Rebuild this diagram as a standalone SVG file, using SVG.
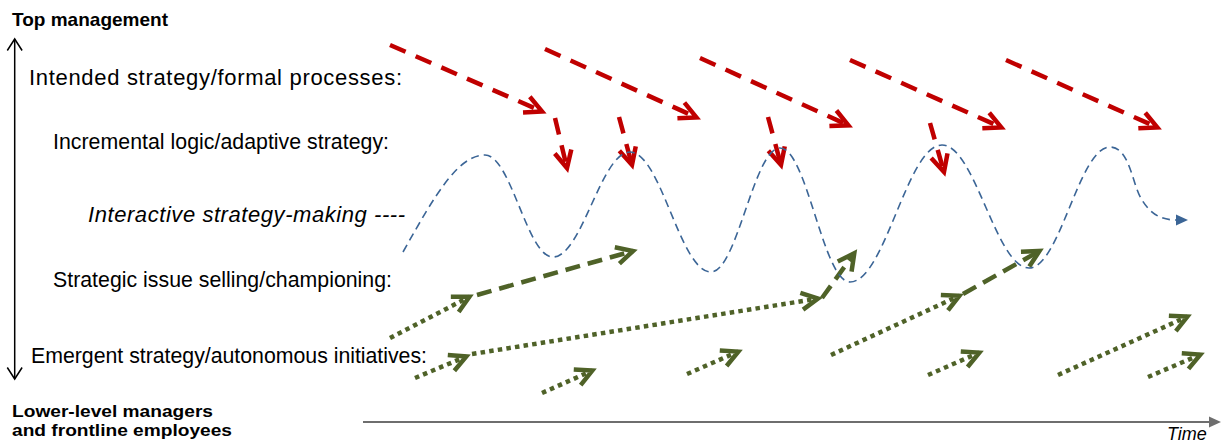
<svg xmlns="http://www.w3.org/2000/svg" width="1223" height="446" viewBox="0 0 1223 446">
<style>
text{font-family:"Liberation Sans",Arial,sans-serif;fill:#000}
.b{font-weight:bold;font-size:18.5px}
.bs{font-weight:bold;font-size:16.5px}
.r{font-size:21.3px}
.red{fill:none;stroke:#C00000;stroke-width:4.5;stroke-dasharray:17 11;marker-end:url(#hr)}
.gdot{fill:none;stroke:#4F6228;stroke-width:4.5;stroke-dasharray:4.5 4.2;marker-end:url(#hg)}
.gdash{fill:none;stroke:#4F6228;stroke-width:4.5;stroke-dasharray:15 8;marker-end:url(#hg)}
</style>
<defs>
<marker id="hr" markerUnits="userSpaceOnUse" viewBox="-25 -15 35 30" refX="0" refY="0" markerWidth="35" markerHeight="30" orient="auto" overflow="visible">
<path d="M-17,-8.5 L0,0 L-17,8.5" fill="none" stroke="#C00000" stroke-width="4.5" stroke-dasharray="none"/>
</marker>
<marker id="hg" markerUnits="userSpaceOnUse" viewBox="-25 -15 35 30" refX="0" refY="0" markerWidth="35" markerHeight="30" orient="auto" overflow="visible">
<path d="M-16.5,-8.5 L0,0 L-16.5,8.5" fill="none" stroke="#4F6228" stroke-width="4.5" stroke-dasharray="none"/>
</marker>
<marker id="hb" markerUnits="userSpaceOnUse" viewBox="0 -6 13 12" refX="0" refY="0" markerWidth="13" markerHeight="12" orient="auto" overflow="visible">
<path d="M0,-5.5 L12,0 L0,5.5 Z" fill="#3B6596" stroke="none"/>
</marker>
</defs>

<g id="axes">
<g id="vertical-axis" fill="none" stroke="#000" stroke-width="1.5">
<line x1="14.7" y1="39" x2="14.7" y2="379"/>
<polyline points="7.3,50.5 14.7,39 22.1,50.5"/>
<polyline points="7.3,367.5 14.7,379 22.1,367.5"/>
</g>
<g id="time-axis">
<line x1="363" y1="422" x2="1210" y2="422" stroke="#6E6E6E" stroke-width="2"/>
<path d="M1209,416.5 L1221,422 L1209,427.5 Z" fill="#6E6E6E"/>
</g>
</g>

<g id="labels">
<g id="top-management"><text class="b" x="12" y="25.7" textLength="156" lengthAdjust="spacingAndGlyphs">Top management</text></g>
<g id="intended"><text x="29" y="85" style="font-size:22px" textLength="373" lengthAdjust="spacing">Intended strategy/formal processes:</text></g>
<g id="incremental"><text class="r" x="53" y="149" textLength="336" lengthAdjust="spacing">Incremental logic/adaptive strategy:</text></g>
<g id="interactive"><text x="88" y="222" style="font-size:22px;font-style:italic" textLength="317" lengthAdjust="spacing">Interactive strategy-making ----</text></g>
<g id="issue-selling"><text class="r" x="53" y="287" textLength="339" lengthAdjust="spacing">Strategic issue selling/championing:</text></g>
<g id="emergent"><text class="r" x="31" y="363.3" textLength="396" lengthAdjust="spacing">Emergent strategy/autonomous initiatives:</text></g>
<g id="lower-level"><text class="bs" x="12" y="417" textLength="201" lengthAdjust="spacingAndGlyphs">Lower-level managers</text><text class="bs" x="12" y="436" textLength="220" lengthAdjust="spacingAndGlyphs">and frontline employees</text></g>
<g id="time"><text x="1167" y="440" style="font-size:18px;font-style:italic">Time</text></g>
</g>

<g id="connectors">
<g id="intended-arrows">
<path class="red" d="M390,45 L542,111.4"/>
<path class="red" d="M545,49 L696.4,117.4"/>
<path class="red" d="M700,58 L848.4,125.3"/>
<path class="red" d="M850,60 L1001.3,127.4"/>
<path class="red" d="M1006,60 L1157.3,127.4"/>
<path class="red" d="M555,118 L567,168"/>
<path class="red" d="M619,117 L632,165"/>
<path class="red" d="M768,117 L781,165"/>
<path class="red" d="M930,123 L944,172"/>
</g>
<g id="emergent-arrows">
<path class="gdot" d="M390,338 L469.4,296.8"/>
<path class="gdash" d="M477,295 L633,251"/>
<path class="gdot" d="M415,378 L466.3,356.5"/>
<path class="gdot" d="M472,354 L818,298.6"/>
<path class="gdash" d="M822,298 L854.3,253.2"/>
<path class="gdot" d="M542,393 L592.3,370.6"/>
<path class="gdot" d="M687,374 L738.3,351.6"/>
<path class="gdot" d="M831,355 L959.4,295.7"/>
<path class="gdash" d="M963,294 L1039.5,251"/>
<path class="gdot" d="M928,375 L979.3,352.6"/>
<path class="gdot" d="M1058,375 L1187.4,316.6"/>
<path class="gdot" d="M1148,377 L1200.3,354.6"/>
</g>
<g id="interactive-wave">
<path d="M403,252 C435,195 458,155 485,155 C511,155 527,257 553,257 C582,257 601,152 630,152 C661,152 680,272 711,272 C737,272 754,148 780,148 C807,148 823,282 850,282 C885,282 907,145 942,145 C975,145 996,268 1029,268 C1060,268 1079,147 1110,147 C1130,147 1132,185 1142,200 C1150,213 1160,220 1176,220" fill="none" stroke="#3B6596" stroke-width="1.6" stroke-dasharray="8 5" marker-end="url(#hb)"/>
</g>
</g>
</svg>
